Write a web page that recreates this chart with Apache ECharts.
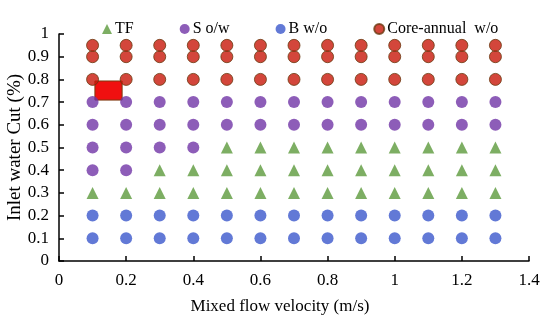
<!DOCTYPE html>
<html><head><meta charset="utf-8">
<script src="https://cdn.jsdelivr.net/npm/echarts@6/dist/echarts.min.js"></script>
<style>html,body{margin:0;padding:0;background:#fff}#c{width:550px;height:321px}</style>
</head><body><div id="c"></div>
<script>
var seriesNames = ['TF', 'S o/w', 'B w/o', 'Core-annual  w/o'];
// [x, y] points
var tfPoints = [
  [0.1,0.3],[0.2,0.3],[0.3,0.3],[0.4,0.3],[0.5,0.3],[0.6,0.3],[0.7,0.3],[0.8,0.3],[0.9,0.3],[1.0,0.3],[1.1,0.3],[1.2,0.3],[1.3,0.3],
  [0.3,0.4],[0.4,0.4],[0.5,0.4],[0.6,0.4],[0.7,0.4],[0.8,0.4],[0.9,0.4],[1.0,0.4],[1.1,0.4],[1.2,0.4],[1.3,0.4],
  [0.5,0.5],[0.6,0.5],[0.7,0.5],[0.8,0.5],[0.9,0.5],[1.0,0.5],[1.1,0.5],[1.2,0.5],[1.3,0.5]
];
var sowPoints = [
  [0.1,0.4],[0.2,0.4],
  [0.1,0.5],[0.2,0.5],[0.3,0.5],[0.4,0.5],
  [0.1,0.6],[0.2,0.6],[0.3,0.6],[0.4,0.6],[0.5,0.6],[0.6,0.6],[0.7,0.6],[0.8,0.6],[0.9,0.6],[1.0,0.6],[1.1,0.6],[1.2,0.6],[1.3,0.6],
  [0.1,0.7],[0.2,0.7],[0.3,0.7],[0.4,0.7],[0.5,0.7],[0.6,0.7],[0.7,0.7],[0.8,0.7],[0.9,0.7],[1.0,0.7],[1.1,0.7],[1.2,0.7],[1.3,0.7]
];
var bwoPoints = [
  [0.1,0.1],[0.2,0.1],[0.3,0.1],[0.4,0.1],[0.5,0.1],[0.6,0.1],[0.7,0.1],[0.8,0.1],[0.9,0.1],[1.0,0.1],[1.1,0.1],[1.2,0.1],[1.3,0.1],
  [0.1,0.2],[0.2,0.2],[0.3,0.2],[0.4,0.2],[0.5,0.2],[0.6,0.2],[0.7,0.2],[0.8,0.2],[0.9,0.2],[1.0,0.2],[1.1,0.2],[1.2,0.2],[1.3,0.2]
];
var corePoints = [
  [0.1,0.8],[0.2,0.8],[0.3,0.8],[0.4,0.8],[0.5,0.8],[0.6,0.8],[0.7,0.8],[0.8,0.8],[0.9,0.8],[1.0,0.8],[1.1,0.8],[1.2,0.8],[1.3,0.8],
  [0.1,0.9],[0.2,0.9],[0.3,0.9],[0.4,0.9],[0.5,0.9],[0.6,0.9],[0.7,0.9],[0.8,0.9],[0.9,0.9],[1.0,0.9],[1.1,0.9],[1.2,0.9],[1.3,0.9],
  [0.1,0.95],[0.2,0.95],[0.3,0.95],[0.4,0.95],[0.5,0.95],[0.6,0.95],[0.7,0.95],[0.8,0.95],[0.9,0.95],[1.0,0.95],[1.1,0.95],[1.2,0.95],[1.3,0.95]
];
var highlightBox = [[0.107, 0.793], [0.188, 0.709]];
var xTicks = [0, 0.2, 0.4, 0.6, 0.8, 1, 1.2, 1.4];
var yTicks = [0, 0.1, 0.2, 0.3, 0.4, 0.5, 0.6, 0.7, 0.8, 0.9, 1];

var font = '"Liberation Serif","Times New Roman",serif';
var chart = echarts.init(document.getElementById('c'));
chart.setOption({
  animation: false,
  backgroundColor: '#fff',
  textStyle: {fontFamily: font},
  legend: {
    top: 16, left: 97,
    itemWidth: 10, itemHeight: 10, itemGap: 46,
    textStyle: {fontFamily: font, fontSize: 16, color: '#000', padding: [0, 0, 0, -2]},
    data: [
      {name: seriesNames[0], icon: 'triangle'},
      {name: seriesNames[1], icon: 'circle'},
      {name: seriesNames[2], icon: 'circle'},
      {name: seriesNames[3], icon: 'circle'}
    ]
  },
  grid: {left: 59, right: 21, top: 34, bottom: 60, containLabel: false, outerBoundsMode: 'none'},
  xAxis: {
    type: 'value', min: xTicks[0], max: xTicks[xTicks.length-1], interval: 0.2,
    name: 'Mixed flow velocity (m/s)', nameLocation: 'middle', nameGap: 37, nameMoveOverlap: false,
    nameTextStyle: {fontFamily: font, fontSize: 17, color: '#000', padding: [0, 28, 0, 0]},
    axisLine: {lineStyle: {color: '#000', width: 1.5}},
    axisTick: {show: true, inside: true, length: 5, lineStyle: {color: '#000', width: 1.5}},
    axisLabel: {fontFamily: font, fontSize: 17, color: '#000', margin: 11},
    splitLine: {show: false}
  },
  yAxis: {
    type: 'value', min: yTicks[0], max: yTicks[yTicks.length-1], interval: 0.1,
    name: 'Inlet water Cut (%)', nameLocation: 'middle', nameGap: 34, nameMoveOverlap: false,
    nameTextStyle: {fontFamily: font, fontSize: 19, color: '#000'},
    axisLine: {show: true, lineStyle: {color: '#000', width: 1.5}},
    axisTick: {show: true, inside: true, length: 5, lineStyle: {color: '#000', width: 1.5}},
    axisLabel: {fontFamily: font, fontSize: 17, color: '#000', margin: 10,
      formatter: function (v) { return String(Math.round(v*10)/10); }},
    splitLine: {show: false}
  },
  series: [
    {name: seriesNames[0], type: 'scatter', symbol: 'triangle', symbolSize: 12,
     itemStyle: {color: '#5d9a3c'}, data: tfPoints},
    {name: seriesNames[1], type: 'scatter', symbol: 'circle', symbolSize: 12,
     itemStyle: {color: '#7035a6'}, data: sowPoints,
     markArea: {silent: true,
       itemStyle: {color: '#f01010', borderColor: '#7a3a10', borderWidth: 1, opacity: 1},
       data: [[{coord: highlightBox[0]}, {coord: highlightBox[1]}]]}},
    {name: seriesNames[2], type: 'scatter', symbol: 'circle', symbolSize: 12,
     itemStyle: {color: '#3b57cc'}, data: bwoPoints},
    {name: seriesNames[3], type: 'scatter', symbol: 'circle', symbolSize: 12,
     itemStyle: {color: '#c8180a', borderColor: '#6a3a10', borderWidth: 1}, data: corePoints}
  ]
});
</script></body></html>
